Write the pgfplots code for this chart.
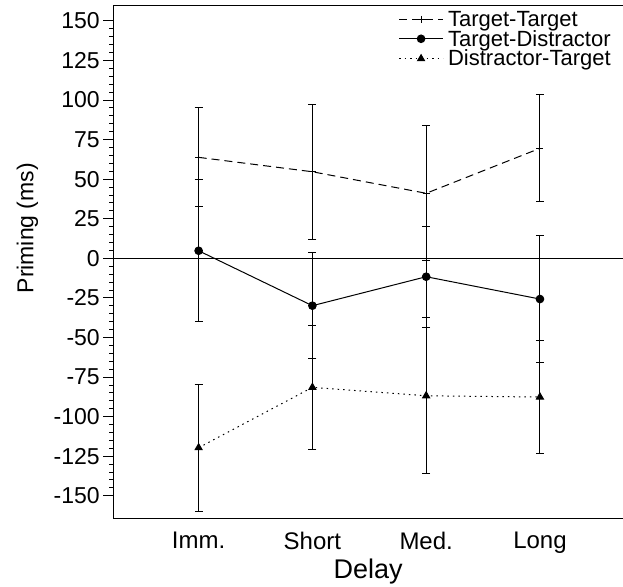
\documentclass[border=0pt]{standalone}
\usepackage{fontspec}
\setmainfont{Liberation Sans}
\usepackage{pgfplots}
\pgfplotsset{compat=1.18}
\usetikzlibrary{calc}
\begin{document}
\begin{tikzpicture}
\useasboundingbox (-113.3pt,-67.7pt) rectangle (509.7pt,518.3pt);
\begin{axis}[
  scale only axis, width=509.7pt, height=512.6pt,
  xmin=0.25, xmax=4.73, ymin=-164.2, ymax=159.6,
  axis x line*=box, axis y line*=left,
  axis line style={line width=1.1pt, black},
  xtick={1,2,3,4}, xticklabels={Imm., Short, Med., Long},
  ytick={-150,-125,...,150}, minor y tick num=4,
  tick align=outside, ytick pos=left,
  major tick length=10pt, minor tick length=4pt,
  xtick style={draw=none},
  ytick style={line width=1pt, black},
  minor tick style={line width=1pt, black},
  /pgf/number format/assume math mode=true,
  tick label style={font=\fontsize{23}{27}\selectfont},
  xticklabel style={font=\fontsize{24}{28}\selectfont},
  xlabel={Delay}, ylabel={Priming (ms)},
  xlabel style={font=\fontsize{27}{31}\selectfont, at={(rel axis cs:0.5,0)}, anchor=base, yshift=-59.7pt},
  ylabel style={font=\fontsize{23}{27}\selectfont, at={($(rel axis cs:0,0.566)+(-80pt,0)$)}, anchor=base},
  legend style={draw=none, fill=none, at={(0.985,0.997)}, anchor=north east,
    font=\fontsize{22}{24}\selectfont, row sep=-0.5pt, column sep=3pt, cells={anchor=west},
    nodes={inner sep=1.5pt}},
  legend image code/.code={\draw[mark repeat=2,mark phase=2,#1] plot coordinates {(0pt,0pt) (22pt,0pt) (44pt,0pt)};},
  error bars/error bar style={solid, black, line width=1pt},
  error bars/error mark options={rotate=90, mark size=4pt, line width=1pt, solid, black},
]
\addplot[black, line width=1pt, dash pattern=on 8pt off 5pt, mark=+, mark size=3.5pt, mark options={solid, line width=1pt},
  error bars/.cd, y dir=both, y explicit]
  coordinates {(1,63.8) +- (0,31.3) (2,54.7) +- (0,42.6) (3,41.1) +- (0,42.7) (4,69.5) +- (0,33.7)};
\addlegendentry{Target-Target}
\addplot[black, line width=1pt, solid, mark=*, mark size=3.8pt,
  error bars/.cd, y dir=both, y explicit]
  coordinates {(1,4.8) +- (0,44.8) (2,-29.9) +- (0,33.4) (3,-11.6) +- (0,32) (4,-25.7) +- (0,40)};
\addlegendentry{Target-Distractor}
\addplot[black, line width=1pt, dash pattern=on 1.5pt off 4pt, mark=triangle*, mark size=4pt, mark options={solid},
  error bars/.cd, y dir=both, y explicit]
  coordinates {(1,-119.6) +- (0,40) (2,-81.5) +- (0,39.2) (3,-86.8) +- (0,49.3) (4,-87.6) +- (0,35.4)};
\addlegendentry{Distractor-Target}
\draw[black, line width=1.1pt] (axis cs:0.25,0) -- (axis cs:4.73,0);
\end{axis}
\end{tikzpicture}
\end{document}
